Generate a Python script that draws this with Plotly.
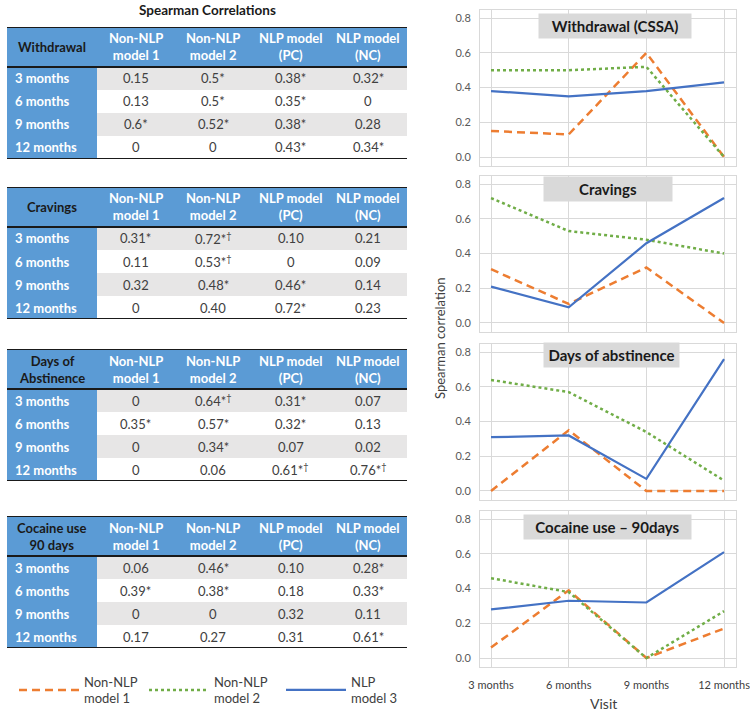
import plotly.graph_objects as go

# ---------------- data ----------------
VISITS = ["3 months", "6 months", "9 months", "12 months"]
COLUMN_HEADERS = ["Non-NLP<br>model 1", "Non-NLP<br>model 2", "NLP model<br>(PC)", "NLP model<br>(NC)"]
TABLE_TITLES = ["Withdrawal", "Cravings", "Days of<br>Abstinence", "Cocaine use<br>90 days"]
CHART_TITLES = ["Withdrawal (CSSA)", "Cravings", "Days of abstinence", "Cocaine use – 90days"]
SERIES_NAMES = ["Non-NLP<br>model 1", "Non-NLP<br>model 2", "NLP<br>model 3"]

WD_M1 = ["0.15", "0.13", "0.6*", "0"]
WD_M2 = ["0.5*", "0.5*", "0.52*", "0"]
WD_PC = ["0.38*", "0.35*", "0.38*", "0.43*"]
WD_NC = ["0.32*", "0", "0.28", "0.34*"]
WD_NLP3 = [0.38, 0.35, 0.38, 0.43]

CR_M1 = ["0.31*", "0.11", "0.32", "0"]
CR_M2 = ["0.72*†", "0.53*†", "0.48*", "0.40"]
CR_PC = ["0.10", "0", "0.46*", "0.72*"]
CR_NC = ["0.21", "0.09", "0.14", "0.23"]
CR_NLP3 = [0.21, 0.09, 0.46, 0.72]

DA_M1 = ["0", "0.35*", "0", "0"]
DA_M2 = ["0.64*†", "0.57*", "0.34*", "0.06"]
DA_PC = ["0.31*", "0.32*", "0.07", "0.61*†"]
DA_NC = ["0.07", "0.13", "0.02", "0.76*†"]
DA_NLP3 = [0.31, 0.32, 0.07, 0.76]

CU_M1 = ["0.06", "0.39*", "0", "0.17"]
CU_M2 = ["0.46*", "0.38*", "0", "0.27"]
CU_PC = ["0.10", "0.18", "0.32", "0.31"]
CU_NC = ["0.28*", "0.33*", "0.11", "0.61*"]
CU_NLP3 = [0.28, 0.33, 0.32, 0.61]

TABLE_COLUMNS = [
    [WD_M1, WD_M2, WD_PC, WD_NC],
    [CR_M1, CR_M2, CR_PC, CR_NC],
    [DA_M1, DA_M2, DA_PC, DA_NC],
    [CU_M1, CU_M2, CU_PC, CU_NC],
]
NLP3_LINES = [WD_NLP3, CR_NLP3, DA_NLP3, CU_NLP3]

# ---------------- style / layout ----------------
W, H = 750, 714
FONT = "Lato, 'Open Sans', sans-serif"
BLUE = "#5B9BD5"
GRAY = "#E7E6E6"
TXT = "#404040"
LINE_COLORS = ["#ED7D31", "#70AD47", "#4472C4"]
LINE_DASH = ["8px,5px", "3px,3px", "solid"]
LINE_WIDTH = [2.5, 2.5, 2.2]


def fx(p):
    return p / W


def fy(p):
    return 1 - p / H


def ax_ref(n):
    return ("x" if n == 1 else f"x{n}"), ("y" if n == 1 else f"y{n}")


def ax_key(n):
    return ("xaxis" if n == 1 else f"xaxis{n}"), ("yaxis" if n == 1 else f"yaxis{n}")


# tables
TABLE_LEFT, TABLE_RIGHT = 7, 407
COL_WIDTHS = [90, 77.5, 77.5, 77.5, 77.5]
HEADER_H, ROW_H = 40, 23
TABLE_TOPS = [27, 187, 349, 516]

# charts
CHART_LEFT, CHART_RIGHT = 480, 736
CHART_ZERO_PX = [157, 323, 491, 658]
Y_RANGE = [-0.052, 0.85]
PX_PER_UNIT = 173.5
X_RANGE = [-0.142, 3.154]
TITLE_BOX_W = [152, 128, 135, 167]
TITLE_BOX_CX = [615, 608, 611.5, 607.5]
TITLE_BOX_CY = [26, 189, 355, 527]

# legends (one per series)
LEGEND_X_PX = [14, 144, 281]
LEGEND_Y_PX = 690


def parse(s):
    return float(s.replace("*", "").replace("†", ""))


def fmt(s):
    return s.replace("†", "<sup>†</sup>")


fig = go.Figure()
layout = dict(
    width=W, height=H, margin=dict(l=0, r=0, t=0, b=0, pad=0, autoexpand=False),
    paper_bgcolor="white", plot_bgcolor="white",
    font=dict(family=FONT, color=TXT),
    showlegend=True,
)
shapes = []
annotations = []

# ---------- tables ----------
table_w = sum(COL_WIDTHS)
table_h = HEADER_H + ROW_H * len(VISITS)
col_edges = [0]
for w in COL_WIDTHS:
    col_edges.append(col_edges[-1] + w)
col_centers = [(col_edges[i] + col_edges[i + 1]) / 2 for i in range(len(COL_WIDTHS))]

for k, top in enumerate(TABLE_TOPS):
    n = 5 + k
    xa, ya = ax_ref(n)
    xk, yk = ax_key(n)
    layout[xk] = dict(domain=[fx(TABLE_LEFT), fx(TABLE_RIGHT)], range=[0, table_w],
                      visible=False, fixedrange=True, anchor=ya, automargin=False)
    layout[yk] = dict(domain=[fy(top + table_h), fy(top)], range=[table_h, 0],
                      visible=False, fixedrange=True, anchor=xa, automargin=False)
    # header
    shapes.append(dict(type="rect", xref=xa, yref=ya, x0=0, x1=table_w, y0=0, y1=HEADER_H,
                       fillcolor=BLUE, line=dict(width=0), layer="below"))
    # first column
    shapes.append(dict(type="rect", xref=xa, yref=ya, x0=0, x1=col_edges[1], y0=HEADER_H, y1=table_h,
                       fillcolor=BLUE, line=dict(width=0), layer="below"))
    for r in range(len(VISITS)):
        y0 = HEADER_H + r * ROW_H
        shapes.append(dict(type="rect", xref=xa, yref=ya, x0=col_edges[1], x1=table_w,
                           y0=y0, y1=y0 + ROW_H,
                           fillcolor=GRAY if r % 2 == 0 else "white", line=dict(width=0), layer="below"))
        annotations.append(dict(xref=xa, yref=ya, x=6, y=y0 + ROW_H / 2, xanchor="left",
                                yanchor="middle", showarrow=False,
                                text=f"<b>{VISITS[r]}</b>",
                                font=dict(size=13, color="white", family=FONT)))
        for c in range(4):
            annotations.append(dict(xref=xa, yref=ya, x=col_centers[c + 1], y=y0 + ROW_H / 2,
                                    xanchor="center", yanchor="middle", showarrow=False,
                                    text=fmt(TABLE_COLUMNS[k][c][r]),
                                    font=dict(size=13, color=TXT, family=FONT)))
    for yl in [0, HEADER_H, table_h]:
        shapes.append(dict(type="line", xref=xa, yref=ya, x0=0, x1=table_w, y0=yl, y1=yl,
                           line=dict(color="#1A1A1A", width=2)))
    annotations.append(dict(xref=xa, yref=ya, x=col_centers[0], y=HEADER_H / 2, showarrow=False,
                            xanchor="center", yanchor="middle", text=f"<b>{TABLE_TITLES[k]}</b>",
                            font=dict(size=13, color="#1A1A1A", family=FONT)))
    for c in range(4):
        annotations.append(dict(xref=xa, yref=ya, x=col_centers[c + 1], y=HEADER_H / 2,
                                showarrow=False, xanchor="center", yanchor="middle",
                                text=f"<b>{COLUMN_HEADERS[c]}</b>",
                                font=dict(size=13, color="white", family=FONT)))

annotations.append(dict(xref="paper", yref="paper", x=fx(207), y=fy(10), showarrow=False,
                        text="<b>Spearman Correlations</b>", xanchor="center", yanchor="middle",
                        font=dict(size=13.5, color="#1A1A1A", family=FONT)))

# ---------- charts ----------
legend_ids = ["legend", "legend2", "legend3"]
for i in range(4):
    n = i + 1
    xa, ya = ax_ref(n)
    xk, yk = ax_key(n)
    bottom = CHART_ZERO_PX[i] - Y_RANGE[0] * PX_PER_UNIT
    top = CHART_ZERO_PX[i] - Y_RANGE[1] * PX_PER_UNIT
    series = [[parse(s) for s in TABLE_COLUMNS[i][0]],
              [parse(s) for s in TABLE_COLUMNS[i][1]],
              NLP3_LINES[i]]
    for s in range(3):
        fig.add_trace(go.Scatter(
            x=VISITS, y=series[s], mode="lines", name=SERIES_NAMES[s],
            line=dict(color=LINE_COLORS[s], dash=LINE_DASH[s], width=LINE_WIDTH[s]),
            xaxis=xa, yaxis=ya, legendgroup=str(s), showlegend=(i == 0),
            legend=legend_ids[s], hoverinfo="skip",
        ))
    layout[xk] = dict(
        domain=[fx(CHART_LEFT), fx(CHART_RIGHT)], range=X_RANGE, type="category",
        anchor=ya, showgrid=True, gridcolor="#D9D9D9", gridwidth=1,
        showline=True, mirror=True, linecolor="#D9D9D9", linewidth=1,
        showticklabels=(i == 3), ticks="", ticklabelstandoff=8, automargin=False,
        tickfont=dict(size=11, color=TXT, family=FONT), fixedrange=True,
    )
    layout[yk] = dict(
        domain=[fy(bottom), fy(top)], range=Y_RANGE, anchor=xa,
        tickvals=[0, 0.2, 0.4, 0.6, 0.8], tickformat=".1f",
        showgrid=True, gridcolor="#D9D9D9", gridwidth=1, zeroline=False,
        showline=True, mirror=True, linecolor="#D9D9D9", linewidth=1,
        ticks="", ticklabelstandoff=6, automargin=False,
        tickfont=dict(size=11, color="#595959", family=FONT), fixedrange=True,
    )
    annotations.append(dict(
        xref=f"{xa} domain", yref=f"{ya} domain",
        x=(TITLE_BOX_CX[i] - CHART_LEFT) / (CHART_RIGHT - CHART_LEFT),
        y=(bottom - TITLE_BOX_CY[i]) / (bottom - top),
        xanchor="center", yanchor="middle", showarrow=False,
        text=f"<b>{CHART_TITLES[i]}</b>", bgcolor="#D9D9D9",
        width=TITLE_BOX_W[i], height=24, borderpad=0,
        font=dict(size=15, color="#1A1A1A", family=FONT),
    ))

annotations.append(dict(xref="paper", yref="paper", x=fx(440), y=fy(338), showarrow=False,
                        text="Spearman correlation", textangle=-90,
                        xanchor="center", yanchor="middle",
                        font=dict(size=13, color=TXT, family=FONT)))
annotations.append(dict(xref="paper", yref="paper", x=fx(603), y=fy(703), showarrow=False,
                        text="Visit", xanchor="center", yanchor="middle",
                        font=dict(size=14, color=TXT, family=FONT)))

for s, lid in enumerate(legend_ids):
    layout[lid] = dict(
        orientation="h", x=fx(LEGEND_X_PX[s]), y=fy(LEGEND_Y_PX), xanchor="left", yanchor="middle",
        font=dict(size=13, color=TXT, family=FONT), itemwidth=60,
        bgcolor="rgba(0,0,0,0)",
    )
layout["shapes"] = shapes
layout["annotations"] = annotations
fig.update_layout(**layout)
fig.write_html("out.html", config={"displayModeBar": False, "staticPlot": True},
               post_script="document.body.style.margin='0px';")
